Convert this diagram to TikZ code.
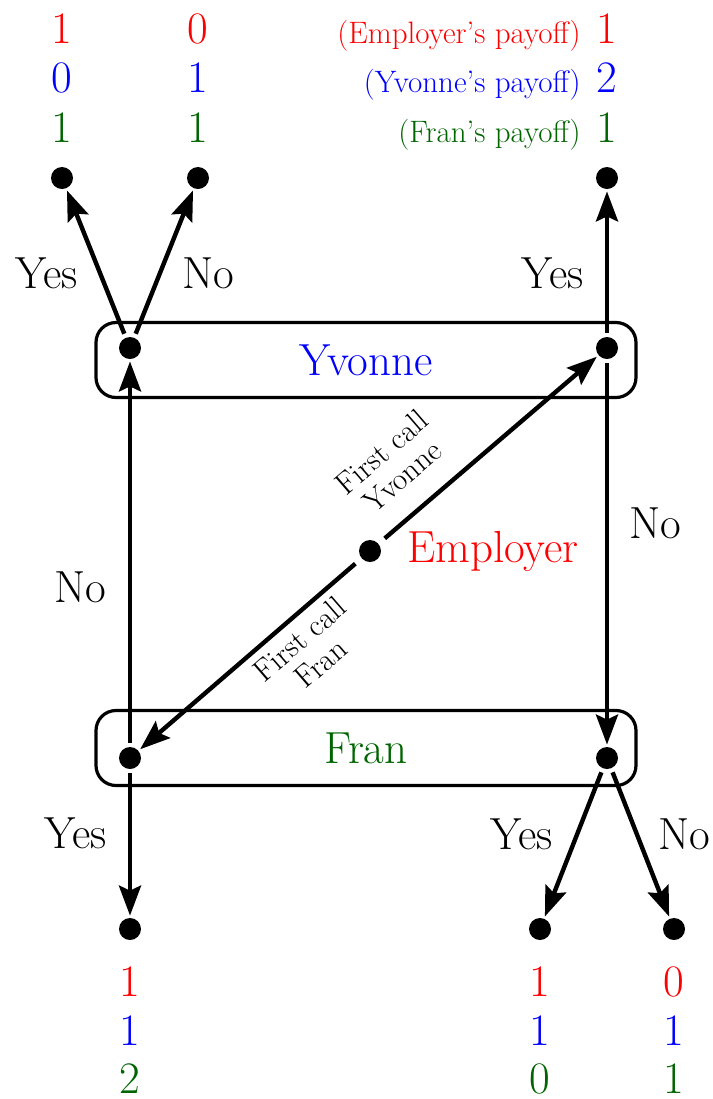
\documentclass[tikz,border=0pt]{standalone}
\usetikzlibrary{arrows.meta,positioning}
\definecolor{pred}{HTML}{FF0000}
\definecolor{pblue}{HTML}{0000FF}
\definecolor{pgreen}{HTML}{006400}

\begin{document}
\begin{tikzpicture}[x=0.5pt,y=-0.5pt,
  dot/.style={circle,fill,inner sep=0pt,minimum size=11pt},
  arr/.style={line width=2.2pt,-{Stealth[length=15pt,width=11pt,inset=2.5pt]},shorten >=1pt,shorten <=2pt},
  big/.style={font=\fontsize{22.5}{26}\selectfont,inner sep=0pt},
  small/.style={font=\fontsize{15.5}{16}\selectfont,inner sep=0pt},
  infoset/.style={draw,line width=1.6pt,rounded corners=10pt,minimum width=270pt,minimum height=37.5pt,font=\fontsize{22.5}{26}\selectfont}]
\useasboundingbox (0,0) rectangle (713,1099);

% information sets
\node[infoset,text=pblue] (yset) at (366,360) {Yvonne};
\node[infoset,text=pgreen] (fset) at (366,748) {Fran};

% decision nodes
\node[dot] (emp) at (370,551) {};
\node[dot] (yl) at (130,348) {};
\node[dot] (yr) at (607,348) {};
\node[dot] (fl) at (130,758) {};
\node[dot] (fr) at (607,758) {};
\foreach \x/\n in {62/t1,198/t2,607/t3}{\node[dot] (\n) at (\x,178) {};}
\foreach \x/\n in {130/b1,540/b2,674/b3}{\node[dot] (\n) at (\x,929) {};}

% moves
\draw[arr,shorten <=4pt] (emp) -- (yr);
\draw[arr,shorten <=4pt] (emp) -- (fl);
\draw[arr] (fl) -- (yl);
\draw[arr] (yr) -- (fr);
\draw[arr] (yl) -- (t1);
\draw[arr] (yl) -- (t2);
\draw[arr] (yr) -- (t3);
\draw[arr] (fl) -- (b1);
\draw[arr] (fr) -- (b2);
\draw[arr] (fr) -- (b3);

% labels
\node[big,text=pred] (elab) at (493,551) {Employer};
\node[small,align=center,rotate=40.8] (cally) at (392,464) {First call\\Yvonne};
\node[small,align=center,rotate=40.8] (callf) at (310,651) {First call\\Fran};
\node[big] (ly1) at (47,273) {Yes};
\node[big] (ln1) at (208,273) {No};
\node[big] (ly2) at (553,273) {Yes};
\node[big] (ln2) at (655,523) {No};
\node[big] (ln3) at (80,587) {No};
\node[big] (ly3) at (76,833) {Yes};
\node[big] (ly4) at (522,834) {Yes};
\node[big] (ln4) at (684,834) {No};

% payoffs
\foreach \x/\a/\b/\c/\n in {62/1/0/1/p1,198/0/1/1/p2,607/1/2/1/p3}{
  \node[big,text=pred,anchor=base] (\n e) at (\x,43) {\a};
  \node[big,text=pblue,anchor=base] (\n y) at (\x,92) {\b};
  \node[big,text=pgreen,anchor=base] (\n f) at (\x,142) {\c};
}
\foreach \x/\a/\b/\c/\n in {130/1/1/2/q1,540/1/1/0/q2,674/0/1/1/q3}{
  \node[big,text=pred,anchor=base] (\n e) at (\x,996) {\a};
  \node[big,text=pblue,anchor=base] (\n y) at (\x,1045) {\b};
  \node[big,text=pgreen,anchor=base] (\n f) at (\x,1093) {\c};
}
\node[small,text=pred,anchor=base east] (key1) at (581,43) {(Employer's payoff)};
\node[small,text=pblue,anchor=base east] (key2) at (581,92) {(Yvonne's payoff)};
\node[small,text=pgreen,anchor=base east] (key3) at (581,142) {(Fran's payoff)};
\end{tikzpicture}
\end{document}
